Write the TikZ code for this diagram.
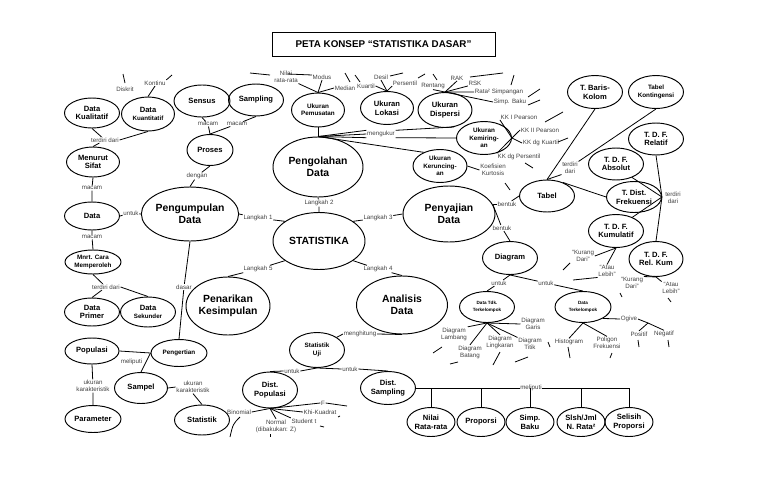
\documentclass[tikz,border=0pt]{standalone}
\usepackage{fontspec}
\setmainfont{Liberation Sans}
\usetikzlibrary{shapes.geometric}

\newcommand{\smtxt}{\fontsize{6.2}{7.4}\selectfont}

\tikzset{
  concept/.style={draw, ellipse, line width=0.95pt, inner sep=0pt, align=center,
    minimum width=55pt, minimum height=32pt, font=\fontsize{7.6}{8.8}\selectfont\bfseries},
  big/.style={concept, minimum width=91pt, minimum height=57pt,
    font=\fontsize{10.4}{12.4}\selectfont\bfseries},
  sm/.style={font=\fontsize{6.3}{7.4}\selectfont\bfseries},
  tiny/.style={font=\fontsize{4.6}{6.6}\selectfont\bfseries},
  lbl/.style={inner sep=0.6pt, align=center, text=black!75, font=\fontsize{6.2}{7}\selectfont},
  conn/.style={line width=0.8pt},
  titlebox/.style={draw, line width=0.9pt, minimum width=223pt, minimum height=24pt,
    font=\fontsize{9.8}{11}\selectfont\bfseries}
}

\begin{document}
\begin{tikzpicture}[x=1pt, y=-1pt]
\useasboundingbox (0,0) rectangle (768,501);

\node[titlebox] (title) at (383.5,44) {PETA KONSEP “STATISTIKA DASAR”};

% left column
\node[concept, minimum height=30pt] (dkual) at (92,113) {Data\\Kualitatif};
\node[concept, minimum width=53pt, minimum height=34pt] (dkuan) at (148,114) {Data\\{\smtxt Kuantitatif}};
\node[concept, minimum width=56pt] (sensus) at (202,101) {Sensus};
\node[concept] (sampling) at (256,100) {Sampling};
\node[concept, minimum width=46pt, minimum height=31pt] (proses) at (210,150) {Proses};
\node[concept, minimum width=53pt, minimum height=30pt] (msifat) at (93,162) {Menurut\\Sifat};
\node[big, minimum width=92pt, minimum height=54pt] (kumpul) at (190,214) {Pengumpulan\\Data};
\node[concept, minimum height=28pt] (data) at (92,216) {Data};
\node[concept, sm, minimum width=56pt, minimum height=24pt] (mcara) at (93,262) {Mnrt. Cara\\Memperoleh};
\node[concept, minimum height=28pt] (primer) at (92,312) {Data\\Primer};
\node[concept, minimum height=30pt] (sekunder) at (148,312) {Data\\{\smtxt Sekunder}};
\node[big, minimum width=84pt, minimum height=58pt] (tarik) at (228,306) {Penarikan\\Kesimpulan};
\node[concept, minimum width=54pt, minimum height=26pt] (populasi) at (92,351) {Populasi};
\node[concept, sm, minimum width=56pt, minimum height=27pt] (pengertian) at (179,353) {Pengertian};
\node[concept, minimum width=53pt, minimum height=31pt] (sampel) at (141,388) {Sampel};
\node[concept, minimum width=56pt, minimum height=27pt] (parameter) at (93,419) {Parameter};
\node[concept, minimum height=30pt] (statistik) at (202,420) {Statistik};

% centre
\node[big, minimum width=90pt, minimum height=60pt] (olah) at (318,167) {Pengolahan\\Data};
\node[concept, sm, minimum width=53pt, minimum height=34pt] (pusat) at (318,110) {Ukuran\\Pemusatan};
\node[concept, minimum width=53pt, minimum height=33pt] (lokasi) at (387,108) {Ukuran\\Lokasi};
\node[concept, minimum width=54pt, minimum height=35pt] (dispersi) at (445,110) {Ukuran\\Dispersi};
\node[concept, sm, minimum height=33pt] (miring) at (484,138) {Ukuran\\Kemiring-\\an};
\node[concept, sm, minimum width=54pt, minimum height=33pt] (runcing) at (440,166) {Ukuran\\Keruncing-\\an};
\node[big, minimum width=92pt, minimum height=56pt] (saji) at (449,214) {Penyajian\\Data};
\node[big, minimum width=92pt, minimum height=57pt] (stat) at (319,241) {STATISTIKA};
\node[big, minimum width=91pt, minimum height=58pt] (analisis) at (402,305) {Analisis\\Data};

% right part
\node[concept] (tabel) at (547,196) {Tabel};
\node[concept, minimum height=33pt] (tbaris) at (595,92) {T. Baris-\\Kolom};
\node[concept, sm, minimum height=33pt] (tkont) at (656,92) {Tabel\\Kontingensi};
\node[concept] (trelatif) at (656,139) {T. D. F.\\Relatif};
\node[concept] (tabsolut) at (616,164) {T. D. F.\\Absolut};
\node[concept, minimum height=31pt] (tdist) at (634,197) {T. Dist.\\Frekuensi};
\node[concept, minimum height=33pt] (tkum) at (616,231) {T. D. F.\\Kumulatif};
\node[concept, minimum width=54pt, minimum height=35pt] (trelkum) at (656,259) {T. D. F.\\Rel. Kum};
\node[concept, minimum height=33pt] (diagram) at (510,258) {Diagram};
\node[concept, tiny, minimum height=31pt] (dtdk) at (487,307) {Data Tdk.\\Terkelompok};
\node[concept, tiny, minimum width=56pt, minimum height=31pt] (dterk) at (583,307) {Data\\Terkelompok};

% bottom
\node[concept, sm, minimum height=35pt] (suji) at (317,350) {Statistik\\Uji};
\node[concept, minimum height=36pt] (dpop) at (270,390) {Dist.\\Populasi};
\node[concept, minimum height=33pt] (dsamp) at (388,388) {Dist.\\Sampling};
\node[concept, minimum width=48pt, minimum height=29pt] (nrata) at (431,422) {Nilai\\Rata-rata};
\node[concept, minimum width=48pt, minimum height=29pt] (proporsi) at (481,422) {Proporsi};
\node[concept, minimum width=48pt, minimum height=29pt] (sbaku) at (530,422) {Simp.\\Baku};
\node[concept, minimum width=48pt, minimum height=29pt] (slsh) at (581,422) {Slsh/Jml\\N. Rata²};
\node[concept, minimum width=48pt, minimum height=29pt] (sprop) at (629,422) {Selisih\\Proporsi};

% labels
\node[lbl] (lkontinu) at (155,83) {Kontinu};
\node[lbl] (ldiskrit) at (125,89) {Diskrit};
\node[lbl] (lterdiri1) at (105,140) {terdiri dari};
\node[lbl] (lmacam1) at (208,124) {macam};
\node[lbl] (lmacam2) at (237,124) {macam};
\node[lbl] (ldengan) at (197,176) {dengan};
\node[lbl] (lmacam3) at (92,188) {macam};
\node[lbl] (luntuk1) at (131,213) {untuk};
\node[lbl] (lmacam4) at (92,237) {macam};
\node[lbl] (lterdiri2) at (106,287) {terdiri dari};
\node[lbl] (ldasar) at (184,287) {dasar};
\node[lbl] (lukuran1) at (93,386) {ukuran\\karakteristik};
\node[lbl] (lukuran2) at (193,387) {ukuran\\karakteristik};
\node[lbl] (llang1) at (258,218) {Langkah 1};
\node[lbl] (llang2) at (319,203) {Langkah 2};
\node[lbl] (llang3) at (378,218) {Langkah 3};
\node[lbl] (llang4) at (378,269) {Langkah 4};
\node[lbl] (llang5) at (258,269) {Langkah 5};
\node[lbl] (lukur) at (381,134) {mengukur};
\node[lbl] (lnilai) at (286,77) {Nilai\\rata-rata};
\node[lbl] (lmodus) at (322,77) {Modus};
\node[lbl] (lmedian) at (345,88) {Median};
\node[lbl] (lkuartil) at (366,86) {Kuartil};
\node[lbl] (ldesil) at (381,77) {Desil};
\node[lbl] (lpersentil) at (405,83) {Persentil};
\node[lbl] (lrentang) at (433,86) {Rentang};
\node[lbl] (lrak) at (457,78) {RAK};
\node[lbl] (lrsk) at (475,83) {RSK};
\node[lbl] (lrata) at (499,92) {Rata² Simpangan};
\node[lbl] (lsbaku) at (510,102) {Simp. Baku};
\node[lbl] (lkk1) at (519,117) {KK I Pearson};
\node[lbl] (lkk2) at (540,130) {KK II Pearson};
\node[lbl] (lkk3) at (541,143) {KK dg Kuartil};
\node[lbl] (lkk4) at (519,157) {KK dg Persentil};
\node[lbl] (lkurt) at (493,170) {Koefisien\\Kurtosis};
\node[lbl] (lbentuk1) at (507,204) {bentuk};
\node[lbl] (lbentuk2) at (502,228) {bentuk};
\node[lbl] (lterdiri3) at (570,168) {terdiri\\dari};
\node[lbl] (lterdiri4) at (673,198) {terdiri\\dari};
\node[lbl] (lkd1) at (583,256) {“Kurang\\Dari”};
\node[lbl] (lal1) at (607,271) {“Atau\\Lebih”};
\node[lbl] (lkd2) at (632,283) {“Kurang\\Dari”};
\node[lbl] (lal2) at (671,288) {“Atau\\Lebih”};
\node[lbl] (luntuk2) at (499,283) {untuk};
\node[lbl] (luntuk3) at (546,283) {untuk};
\node[lbl] (llambang) at (454,334) {Diagram\\Lambang};
\node[lbl] (lbatang) at (470,352) {Diagram\\Batang};
\node[lbl] (llingkar) at (500,342) {Diagram\\Lingkaran};
\node[lbl] (ltitik) at (530,344) {Diagram\\Titik};
\node[lbl] (lgaris) at (533,324) {Diagram\\Garis};
\node[lbl] (lhisto) at (569,342) {Histogram};
\node[lbl] (lpoligon) at (607,343) {Poligon\\Frekuensi};
\node[lbl] (logive) at (629,319) {Ogive};
\node[lbl] (lpositif) at (639,334) {Positif};
\node[lbl] (lnegatif) at (664,334) {Negatif};
\node[lbl] (lhitung) at (360,334) {menghitung};
\node[lbl] (luntuk4) at (292,371) {untuk};
\node[lbl] (luntuk5) at (350,369) {untuk};
\node[lbl] (lbinom) at (239,412) {Binomial};
\node[lbl] (lnormal) at (276,426) {Normal\\(dibakukan: Z)};
\node[lbl] (lstudent) at (304,421) {Student t};
\node[lbl] (lkhi) at (320,412) {Khi-Kuadrat};
\node[lbl] (lf) at (323,403) {F};

% links, left
\draw[conn] (dkuan.north) -- (lkontinu.south);
\draw[conn] (lkontinu.north east) -- (172,75);
\draw[conn] (123,74) -- (125,83);
\draw[conn] (dkual.south) -- (lterdiri1);
\draw[conn] (dkuan.south) -- (lterdiri1.east);
\draw[conn] (lterdiri1) -- (msifat.north);
\draw[conn] (sensus.south) -- (lmacam1);
\draw[conn] (sampling.south) -- (lmacam2);
\draw[conn] (lmacam1) -- (proses.north);
\draw[conn] (lmacam2) -- (proses.north);
\draw[conn] (proses.south) -- (ldengan) -- (kumpul.north);
\draw[conn] (msifat.south) -- (lmacam3) -- (data.north);
\draw[conn] (data.east) -- (luntuk1) -- (kumpul.west);
\draw[conn] (data.south) -- (lmacam4) -- (mcara.north);
\draw[conn] (mcara.south) -- (lterdiri2) -- (primer.north);
\draw[conn] (lterdiri2.east) -- (sekunder.north);
\draw[conn] (kumpul.south) -- (ldasar) -- (pengertian.north);
\draw[conn] (populasi.east) -- (pengertian.west);
\draw[conn] (pengertian.west) -- node[lbl, left=3pt, pos=0.45] (lmeliputi) {meliputi} (sampel.north);
\draw[conn] (populasi.south) -- (lukuran1) -- (parameter.north);
\draw[conn] (sampel.east) -- (lukuran2.west);
\draw[conn] (lukuran2.south) -- (statistik.north);

% steps
\draw[conn] (stat.150) -- (llang1) -- (kumpul.east);
\draw[conn] (stat.north) -- (llang2) -- (olah.south);
\draw[conn] (stat.30) -- (llang3) -- (saji.west);
\draw[conn] (stat.-30) -- (llang4) -- (analisis.north);
\draw[conn] (stat.-150) -- (llang5) -- (tarik.north);

% ukuran
\draw[conn] (olah.north) -- (pusat.south);
\coordinate (mk) at (olah.north);
\draw[conn] (mk) -- (lukur.north west);
\draw[conn] (mk) -- (lukur.west);
\draw[conn] (mk) -- (lukur.south west);
\draw[conn] (lukur.north east) -- (dispersi.-62);
\draw[conn] (lukur.south east) -- (miring.west);
\draw[conn] (mk) -- (runcing.140);
\draw[conn] (pusat.north) -- (lnilai.south east);
\draw[conn] (pusat.north) -- (lmodus.south);
\draw[conn] (pusat.north) -- (lmedian.west);
\draw[conn] (lokasi.north) -- (lkuartil.east);
\draw[conn] (lokasi.north) -- (ldesil.south);
\draw[conn] (lokasi.north) -- (lpersentil.south west);
\draw[conn] (dispersi.north) -- (lrentang.south);
\draw[conn] (dispersi.north) -- (lrak.south);
\draw[conn] (dispersi.north) -- (lrsk.south west);
\draw[conn] (dispersi.north) -- (lrata.west);
\draw[conn] (dispersi.north) -- (lsbaku.west);
\draw[conn] (miring.east) -- (lkk1.south west);
\draw[conn] (miring.east) -- (lkk2.west);
\draw[conn] (miring.east) -- (lkk3.west);
\draw[conn] (miring.east) -- (lkk4.north west);
\draw[conn] (runcing.east) -- (lkurt.west);

% stray strokes, top
\draw[conn] (250,73) -- (270,75);
\draw[conn] (288,74) -- (312,75);
\draw[conn] (345,73) -- (350,82);
\draw[conn] (355,75) -- (360,82);
\draw[conn] (390,76) -- (403,73);
\draw[conn] (418,78) -- (425,74);
\draw[conn] (433,74) -- (437,80);
\draw[conn] (470,77) -- (503,73);
\draw[conn] (511,85) -- (514,75);
\draw[conn] (528,97) -- (540,89);
\draw[conn] (528,105) -- (540,100);
\draw[conn] (545,122) -- (563,112);
\draw[conn] (558,142) -- (568,138);
\draw[conn] (525,163) -- (533,168);
\draw[conn] (505,183) -- (510,190);

% penyajian
\draw[conn] (saji.12) -- (lbentuk1) -- (tabel.west);
\draw[conn] (saji.12) -- (lbentuk2) -- (diagram.north);
\draw[conn] (tabel.north) -- (tbaris.south);
\draw[conn] (tabel.north) -- (lterdiri3.south west);
\draw[conn] (lterdiri3.north east) -- (tkont.south);
\draw[conn] (tabel.40) -- (tdist.west);
\draw[conn] (tdist.east) -- (trelatif.south);
\draw[conn] (tdist.east) -- (tabsolut.-40);
\draw[conn] (tdist.east) -- (tkum.40);
\draw[conn] (tdist.east) -- (trelkum.north);
\draw[conn] (tkum.south) -- (lkd1.east);
\draw[conn] (tkum.south) -- (lal1.north);
\draw[conn] (trelkum.south) -- (lkd2.north east);
\draw[conn] (trelkum.south) -- (lal2.north west);
\draw[conn] (563,270) -- (570,263);
\draw[conn] (573,280) -- (lal1.south west);
\draw[conn] (620,293) -- (622,297);
\draw[conn] (668,298) -- (671,302);

% diagram
\draw[conn] (diagram.south) -- (luntuk2) -- (dtdk.north);
\draw[conn] (diagram.south) -- (luntuk3) -- (dterk.north);
\draw[conn] (dtdk.south) -- (llambang.north east);
\draw[conn] (dtdk.south) -- (lbatang.north);
\draw[conn] (dtdk.south) -- (llingkar.north);
\draw[conn] (dtdk.south) -- (ltitik.north west);
\draw[conn] (dtdk.south) -- (lgaris.west);
\draw[conn] (dterk.south) -- (lhisto.north);
\draw[conn] (dterk.south) -- (lpoligon.north);
\draw[conn] (dterk.-30) -- (logive.west);
\coordinate (og) at (648,323);
\draw[conn] (logive.east) -- (og);
\draw[conn] (og) -- (lpositif.north);
\draw[conn] (og) -- (lnegatif.north);
\draw[conn] (433,353) -- (442,347);
\draw[conn] (450,364) -- (458,362);
\draw[conn] (493,365) -- (500,352);
\draw[conn] (515,362) -- (528,357);
\draw[conn] (548,342) -- (550,347);
\draw[conn] (568,347) -- (570,358);
\draw[conn] (612,353) -- (610,358);
\draw[conn] (638,340) -- (639,347);
\draw[conn] (668,340) -- (669,347);

% analisis
\draw[conn] (analisis.south) -- (lhitung.east);
\draw[conn] (lhitung.west) -- (suji.north east);
\draw[conn] (suji.south) -- (luntuk4.east);
\draw[conn] (luntuk4.west) -- (dpop.north);
\draw[conn] (suji.south) -- (luntuk5.west);
\draw[conn] (luntuk5.east) -- (dsamp.north);
\draw[conn] (dpop.south) -- (lbinom.east);
\draw[conn] (dpop.south) -- (lnormal.north);
\draw[conn] (dpop.south) -- (lstudent.north west);
\draw[conn] (dpop.south) -- (lkhi.west);
\draw[conn] (dpop.south) -- (lf.west);
\draw[conn] (lf.east) -- (347,406);
\draw[conn] (338,417) -- (340,416);
\draw[conn] (320,426) -- (324,427);
\draw[conn] (240,417) .. controls (233,424) .. (230,437);
\draw[conn] (270,434) -- (270,437);

% sampling distributions
\coordinate (busend) at (629,388);
\draw[conn] (dsamp.east) -- node[lbl, fill=white, pos=0.54] (lmeliputi2) {meliputi} (busend);
\draw[conn] (nrata.north) -- (nrata.north |- busend);
\draw[conn] (proporsi.north) -- (proporsi.north |- busend);
\draw[conn] (sbaku.north) -- (sbaku.north |- busend);
\draw[conn] (slsh.north) -- (slsh.north |- busend);
\draw[conn] (sprop.north) -- (busend);
\end{tikzpicture}
\end{document}
